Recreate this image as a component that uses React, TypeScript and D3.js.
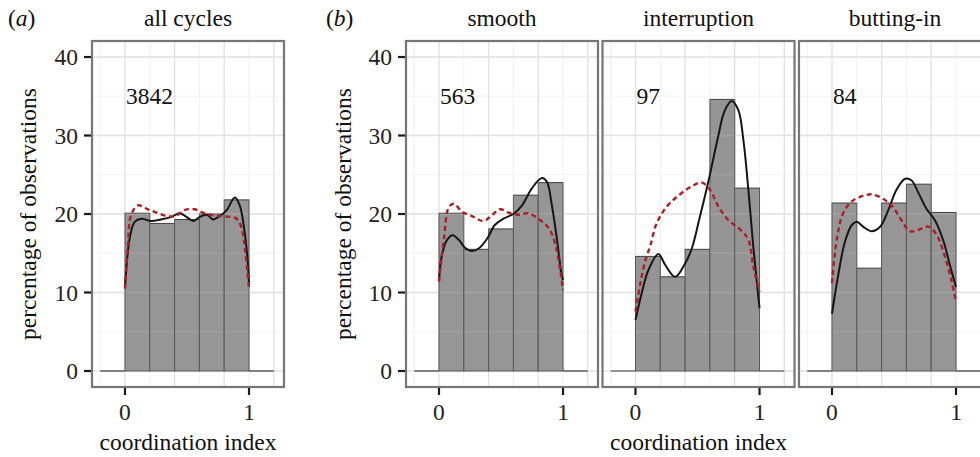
import React from 'react';
import * as d3 from 'd3';

const W = 980;
const H = 457;
const FONT = '"Liberation Serif", "Times New Roman", serif';

// facet titles and the counts printed inside each panel
const panelTitles = ['all cycles', 'smooth', 'interruption', 'butting-in'];
const panelCounts = ['3842', '563', '97', '84'];

// histogram bins (width 0.2), outer ones are empty
const binEdges = [-0.2, 0, 0.2, 0.4, 0.6, 0.8, 1.0, 1.2];
const allCyclesBars = [0, 20.1, 18.8, 19.3, 20.0, 21.8, 0];
const smoothBars = [0, 20.1, 15.5, 18.1, 22.4, 24.0, 0];
const interruptionBars = [0, 14.6, 12.0, 15.5, 34.6, 23.3, 0];
const buttingInBars = [0, 21.4, 13.1, 21.4, 23.8, 20.2, 0];

// black solid curve
const allCyclesBlack = [[0, 10.6], [0.038, 16.9], [0.078, 19.0], [0.132, 19.4], [0.21, 19.1], [0.29, 19.3], [0.37, 19.6], [0.44, 20.1], [0.49, 19.7], [0.55, 19.1], [0.6, 19.6], [0.66, 19.9], [0.71, 19.3], [0.76, 19.7], [0.82, 20.5], [0.885, 22.1], [0.925, 21.1], [0.96, 18.2], [0.99, 13.9], [1.0, 10.9]];
const smoothBlack = [[0, 11.6], [0.024, 14.8], [0.065, 16.7], [0.11, 17.3], [0.16, 16.7], [0.21, 15.7], [0.26, 15.3], [0.32, 15.6], [0.39, 16.9], [0.45, 18.6], [0.52, 19.4], [0.6, 20.0], [0.67, 21.1], [0.75, 23.3], [0.83, 24.6], [0.87, 24.1], [0.91, 21.1], [0.95, 16.9], [0.985, 12.6], [1.0, 11.6]];
const interruptionBlack = [[0, 6.5], [0.05, 9.9], [0.105, 12.9], [0.185, 14.9], [0.24, 13.5], [0.32, 12.0], [0.4, 13.7], [0.454, 15.6], [0.52, 19.7], [0.59, 24.3], [0.66, 29.4], [0.72, 33.2], [0.776, 34.4], [0.83, 33.2], [0.87, 29.4], [0.91, 23.1], [0.95, 15.8], [1.0, 8.0]];
const buttingInBlack = [[0, 7.3], [0.05, 12.2], [0.105, 16.5], [0.16, 18.6], [0.2, 19.0], [0.25, 18.4], [0.32, 17.8], [0.39, 18.4], [0.454, 20.5], [0.52, 23.1], [0.59, 24.5], [0.64, 24.3], [0.7, 22.6], [0.76, 20.7], [0.83, 19.2], [0.9, 16.5], [0.95, 13.5], [1.0, 10.7]];

// red dashed curve
const allCyclesRed = [[0, 10.5], [0.024, 16.0], [0.05, 19.9], [0.105, 21.1], [0.185, 20.6], [0.266, 20.1], [0.347, 19.7], [0.414, 19.8], [0.48, 20.5], [0.56, 20.6], [0.64, 20.1], [0.72, 19.8], [0.8, 19.7], [0.9, 19.4], [0.94, 18.2], [0.97, 15.2], [1.0, 10.5]];
const smoothRed = [[0, 11.4], [0.04, 16.9], [0.08, 20.9], [0.12, 21.3], [0.185, 20.3], [0.27, 19.7], [0.36, 19.1], [0.43, 19.9], [0.49, 20.6], [0.575, 20.1], [0.655, 19.9], [0.72, 20.1], [0.8, 19.4], [0.885, 18.2], [0.94, 16.0], [0.98, 12.6], [1.0, 10.3]];
const interruptionRed = [[0, 7.6], [0.04, 11.2], [0.08, 14.1], [0.12, 16.0], [0.17, 18.8], [0.25, 20.9], [0.35, 22.4], [0.45, 23.5], [0.535, 24.0], [0.6, 23.1], [0.67, 20.9], [0.75, 19.2], [0.845, 18.0], [0.91, 16.7], [0.95, 13.3], [1.0, 10.1]];
const buttingInRed = [[0, 11.2], [0.04, 16.9], [0.09, 20.1], [0.16, 21.6], [0.25, 22.3], [0.32, 22.5], [0.415, 21.9], [0.49, 20.9], [0.56, 19.2], [0.63, 17.8], [0.7, 18.0], [0.777, 18.4], [0.845, 17.3], [0.91, 14.6], [0.965, 11.4], [1.0, 8.8]];

const yTicks = [0, 10, 20, 30, 40];
const yMinor = [5, 15, 25, 35];
const xTicks = [0, 1];
const xMajorGrid = [0, 0.4, 0.8, 1.2];
const xMinorGrid = [-0.2, 0.2, 0.6, 1.0];

const panelBars = [allCyclesBars, smoothBars, interruptionBars, buttingInBars];
const panelBlack = [allCyclesBlack, smoothBlack, interruptionBlack, buttingInBlack];
const panelRed = [allCyclesRed, smoothRed, interruptionRed, buttingInRed];

const panelLefts = [92, 406, 602.5, 799];
const panelW = 192;
const top = 41;
const bottom = 387;
const ink = '#111';

const y = d3.scaleLinear().domain([-2.04, 42.04]).range([bottom, top]);

const Panel = ({ i, showY }) => {
  const left = panelLefts[i];
  const x = d3.scaleLinear().domain([-0.266, 1.282]).range([left, left + panelW]);
  const line = d3.line().x(d => x(d[0])).y(d => y(d[1])).curve(d3.curveCatmullRom.alpha(0.5));
  const bars = panelBars[i];

  const grid = (white, op) => (
    <g opacity={op}>
      {yMinor.map(v => <line key={'ym' + v} x1={left} x2={left + panelW} y1={y(v)} y2={y(v)} stroke={white ? '#fff' : '#f2f2f2'} strokeWidth={1.2} />)}
      {xMinorGrid.map(v => <line key={'xm' + v} x1={x(v)} x2={x(v)} y1={top} y2={bottom} stroke={white ? '#fff' : '#f2f2f2'} strokeWidth={1.2} />)}
      {yTicks.map(v => <line key={'yM' + v} x1={left} x2={left + panelW} y1={y(v)} y2={y(v)} stroke={white ? '#fff' : '#dedede'} strokeWidth={1.3} />)}
      {xMajorGrid.map(v => <line key={'xM' + v} x1={x(v)} x2={x(v)} y1={top} y2={bottom} stroke={white ? '#fff' : '#dedede'} strokeWidth={1.3} />)}
    </g>
  );

  return (
    <g>
      <text x={left + panelW / 2} y={26} textAnchor="middle" fontSize={23.5} fill={ink}>{panelTitles[i]}</text>
      {grid(false, 1)}
      <clipPath id={'clip' + i}>
        <rect x={left} y={top} width={panelW} height={bottom - top} />
      </clipPath>
      <g clipPath={`url(#clip${i})`}>
        {bars.map((v, k) => (
          v > 0 ? (
            <rect key={k} x={x(binEdges[k])} y={y(v)} width={x(binEdges[k + 1]) - x(binEdges[k])} height={y(0) - y(v)}
              fill="#969696" stroke="#404040" strokeWidth={1} />
          ) : (
            <line key={k} x1={x(binEdges[k])} x2={x(binEdges[k + 1])} y1={y(0)} y2={y(0)} stroke="#2a2a2a" strokeWidth={1.2} />
          )
        ))}
        {grid(true, 0.13)}
        <path d={line(panelBlack[i])} fill="none" stroke="#161616" strokeWidth={2} />
        <path d={line(panelRed[i])} fill="none" stroke="#b01d24" strokeWidth={2.4} strokeDasharray="5,3.5" />
      </g>
      <text x={x(0) + 1} y={y(35)} dy="0.35em" fontSize={23.5} fill={ink}>{panelCounts[i]}</text>
      <rect x={left} y={top} width={panelW} height={bottom - top} fill="none" stroke="#767676" strokeWidth={2.2} />
      {xTicks.map(v => (
        <g key={'xt' + v}>
          <line x1={x(v)} x2={x(v)} y1={bottom + 1} y2={bottom + 8} stroke="#1a1a1a" strokeWidth={2.2} />
          <text x={x(v)} y={420} textAnchor="middle" fontSize={23.5} fill="#222">{v}</text>
        </g>
      ))}
      {showY && yTicks.map(v => (
        <g key={'yt' + v}>
          <line x1={left - 8} x2={left - 1} y1={y(v)} y2={y(v)} stroke="#1a1a1a" strokeWidth={2.2} />
          <text x={left - 14} y={y(v)} dy="0.35em" textAnchor="end" fontSize={23.5} fill="#222">{v}</text>
        </g>
      ))}
    </g>
  );
};

export default function App() {
  const midY = (top + bottom) / 2;
  return (
    <svg width={W} height={H} style={{ position: 'absolute', left: 0, top: 0, background: '#fff' }} fontFamily={FONT}>
      <rect width={W} height={H} fill="#fff" />
      <text x={8} y={26} fontSize={23.5} fill={ink}>(<tspan fontStyle="italic">a</tspan>)</text>
      <text x={326} y={26} fontSize={23.5} fill={ink}>(<tspan fontStyle="italic">b</tspan>)</text>
      {[0, 1, 2, 3].map(i => <Panel key={i} i={i} showY={i < 2} />)}
      <text transform={`translate(36,${midY}) rotate(-90)`} textAnchor="middle" fontSize={23.5} fill={ink}>percentage of observations</text>
      <text transform={`translate(351,${midY}) rotate(-90)`} textAnchor="middle" fontSize={23.5} fill={ink}>percentage of observations</text>
      <text x={panelLefts[0] + panelW / 2} y={450} textAnchor="middle" fontSize={23.5} fill={ink}>coordination index</text>
      <text x={panelLefts[2] + panelW / 2} y={450} textAnchor="middle" fontSize={23.5} fill={ink}>coordination index</text>
    </svg>
  );
}
